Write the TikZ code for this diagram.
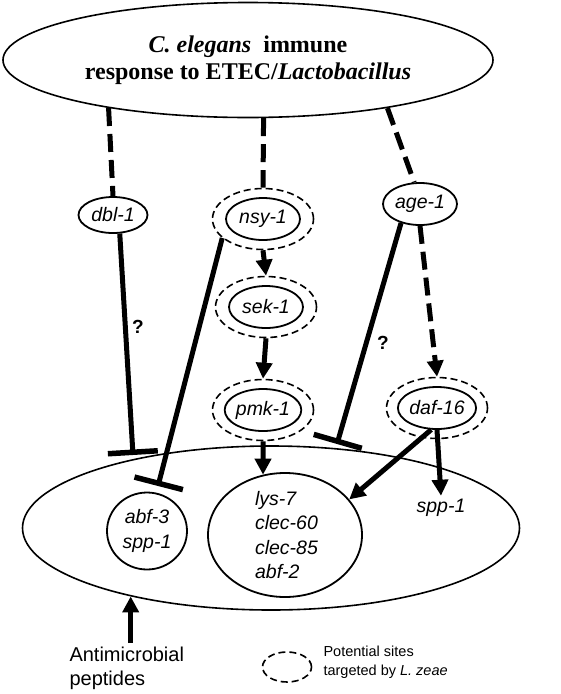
\documentclass[tikz,border=0pt]{standalone}
\usepackage{fontspec}
\setmainfont{Liberation Sans}
\newfontfamily\titlefont{Liberation Serif}
\usetikzlibrary{shapes.geometric,arrows.meta}

\begin{document}
\begin{tikzpicture}[x=1pt,y=-1pt,
  gene/.style={ellipse,draw,line width=1.8pt,inner sep=0pt,
    minimum width=74pt,minimum height=42pt,
    font=\fontsize{19.5}{22}\selectfont\itshape},
  ring/.style={ellipse,draw,line width=1.6pt,dash pattern=on 7pt off 4pt,
    minimum width=101pt,minimum height=61pt},
  arr/.style={line width=5pt,-{Triangle[length=16pt,width=16pt]}},
  inh/.style={line width=5pt,-{Bar[width=50pt,line width=5.5pt]}},
  dline/.style={line width=5pt,dash pattern=on 18pt off 8pt}]
  \useasboundingbox (0,0) rectangle (561,694);

  % Response
  \node[ellipse,draw,line width=1.6pt,minimum width=490pt,minimum height=115pt,
    align=center,font=\titlefont\bfseries\fontsize{24}{27}\selectfont]
    (top) at (248,60) {\textit{C. elegans}\ \ immune\\response to ETEC/\textit{Lactobacillus}};

  % Genes
  \node[gene,minimum width=69pt,minimum height=36pt] (dbl) at (113,215) {dbl-1};
  \node[gene] (nsy) at (263,219) {nsy-1};
  \node[ring] (nsyR) at (nsy) {};
  \node[gene] (age) at (420,204) {age-1};
  \node[gene] (sek) at (266,307) {sek-1};
  \node[ring] (sekR) at (sek) {};
  \node[gene] (pmk) at (263,410) {pmk-1};
  \node[ring] (pmkR) at (pmk) {};
  \node[gene] (daf) at (437,408) {daf-16};
  \node[ring] (dafR) at (daf) {};

  % Peptides
  \node[ellipse,draw,line width=1.6pt,minimum width=497pt,minimum height=164pt]
    (cell) at (271,528) {};
  \node[ellipse,draw,line width=1.8pt,inner sep=0pt,minimum width=80pt,minimum height=77pt,
    align=center,font=\fontsize{19.5}{25}\selectfont\itshape] (abf) at (147,531) {abf-3\\spp-1};
  \node[ellipse,draw,line width=1.8pt,inner sep=-4pt,minimum width=154pt,minimum height=124pt,
    align=left,font=\fontsize{19.5}{24.5}\selectfont\itshape] (lys) at (285,535)
    {\hspace{3pt}lys-7\\\hspace{3pt}clec-60\\\hspace{3pt}clec-85\\\hspace{3pt}abf-2};
  \node[font=\fontsize{19.5}{22}\selectfont\itshape] (spp) at (441,508) {spp-1};

  \node[font=\bfseries\fontsize{19}{19}\selectfont] (q1) at (138,327) {?};
  \node[font=\bfseries\fontsize{19}{19}\selectfont] (q2) at (383,343) {?};

  % Links
  \draw[dline] (top.199) -- (dbl.north);
  \draw[dline] (top.285) -- (nsyR.north);
  \draw[dline] (top.341) -- (age.105);
  \draw[dline,-{Triangle[length=16pt,width=16pt]}] (age.south) -- (dafR.north);

  \draw[arr] (nsyR.south) -- (sekR.north);
  \draw[arr] (sekR.south) -- (pmkR.north);
  \draw[arr] (pmkR.south) -- (lys.110);
  \draw[arr] (daf.255) -- (lys.29);
  \draw[arr] (daf.south) -- (spp.north);

  \coordinate (dblEnd) at (133,455);
  \coordinate (nsyEnd) at (158,486);
  \coordinate (ageEnd) at (337,444);
  \draw[inh] (dbl.290) -- (dblEnd);
  \draw[inh] (nsyR.205) -- (nsyEnd);
  \draw[inh] (age.225) -- (ageEnd);

  % Legend
  \node[anchor=west,align=left,font=\fontsize{20}{24}\selectfont] (amp) at (66,668)
    {Antimicrobial\\peptides};
  \draw[arr] (amp.north -| cell.206) -- (cell.206);
  \node[ring,minimum width=49pt,minimum height=30pt] (key) at (287,667) {};
  \node[anchor=west,align=left,font=\fontsize{14.5}{19}\selectfont] (keytext) at (320,662)
    {Potential sites\\targeted by \textit{L. zeae}};
\end{tikzpicture}
\end{document}
